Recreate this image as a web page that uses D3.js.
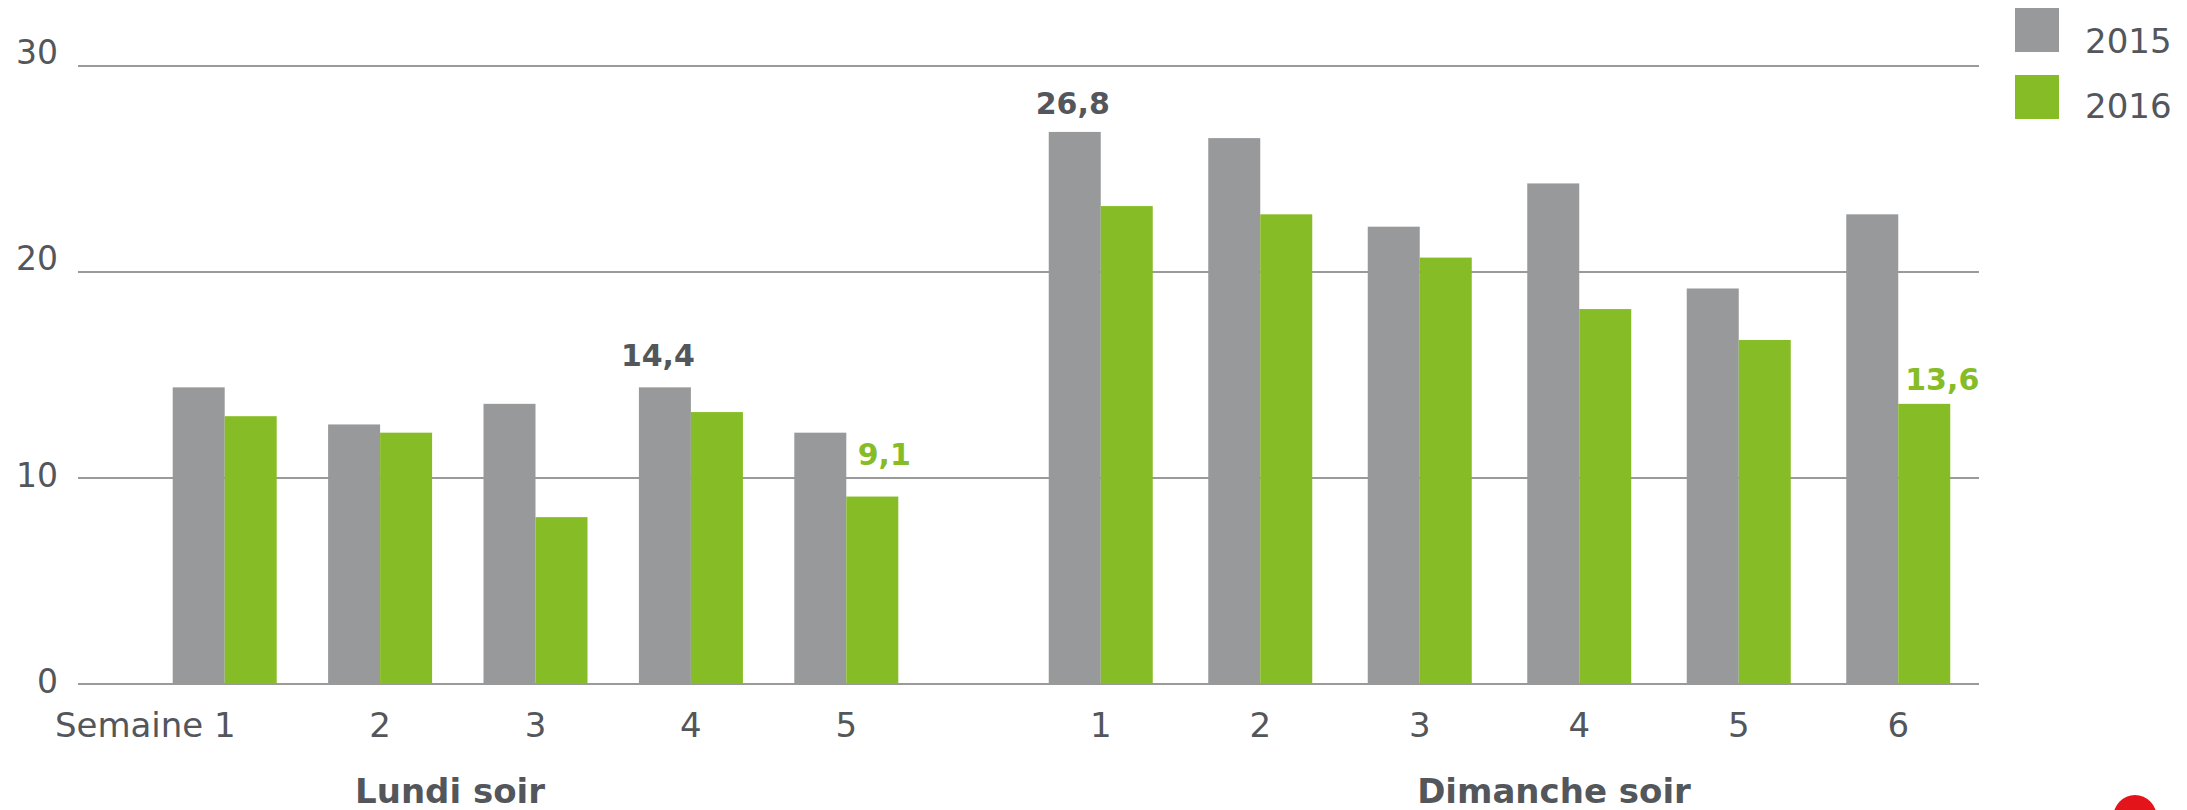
<!DOCTYPE html>
<html>
<head>
<meta charset="utf-8">
<script src="https://cdn.jsdelivr.net/npm/d3@7"></script>
<style>
  html, body { margin: 0; padding: 0; background: #fff; }
  svg { display: block; }
  text { font-family: "DejaVu Sans", Verdana, sans-serif; }
</style>
</head>
<body>
<svg id="chart" width="2187" height="810"></svg>
<script>
// ---- data ----
const seriesNames = ["2015", "2016"];
const lundiWeeks = ["1", "2", "3", "4", "5"];
const lundi2015 = [14.4, 12.6, 13.6, 14.4, 12.2];
const lundi2016 = [13.0, 12.2, 8.1, 13.2, 9.1];
const dimancheWeeks = ["1", "2", "3", "4", "5", "6"];
const dimanche2015 = [26.8, 26.5, 22.2, 24.3, 19.2, 22.8];
const dimanche2016 = [23.2, 22.8, 20.7, 18.2, 16.7, 13.6];
const groupLabels = ["Lundi soir", "Dimanche soir"];
const yTicks = [0, 10, 20, 30];
// highlighted value labels: group, series, week index, text
const valueLabels = [
  { group: 0, series: "2015", index: 3, text: "14,4" },
  { group: 0, series: "2016", index: 4, text: "9,1" },
  { group: 1, series: "2015", index: 0, text: "26,8" },
  { group: 1, series: "2016", index: 5, text: "13,6" }
];

// ---- styles ----
const colors = { "2015": "#98999b", "2016": "#86bc25" };
const textColor = "#53565a";
const labelOffsets = [ {dx: -7, dy: -21}, {dx: 12, dy: -32}, {dx: -2, dy: -18}, {dx: 18, dy: -14} ];

const svg = d3.select("#chart");

const y = d3.scaleLinear().domain([0, 30]).range([684, 66]);

const groups = [
  { weeks: lundiWeeks, values: { "2015": lundi2015, "2016": lundi2016 },
    x: d3.scaleBand().domain(lundiWeeks).range([147, 924]).padding(0) },
  { weeks: dimancheWeeks, values: { "2015": dimanche2015, "2016": dimanche2016 },
    x: d3.scaleBand().domain(dimancheWeeks).range([1021, 1978]).padding(0) }
];
const xSub = d3.scaleBand().domain(seriesNames).range([-52, 52]).padding(0);

// gridlines
svg.append("g").selectAll("line").data(yTicks).join("line")
  .attr("x1", 78).attr("x2", 1979)
  .attr("y1", d => y(d)).attr("y2", d => y(d))
  .attr("stroke", "#9a9a9a").attr("stroke-width", 2);

// y tick labels
svg.append("g").selectAll("text").data(yTicks).join("text")
  .attr("x", 58).attr("y", d => y(d) + (d >= 20 ? -2 : 9))
  .attr("text-anchor", "end")
  .attr("font-size", 33).attr("fill", textColor)
  .text(d => d);

// bars
groups.forEach((g, gi) => {
  const gg = svg.append("g");
  seriesNames.forEach(s => {
    gg.selectAll(null).data(g.weeks).join("rect")
      .attr("x", d => g.x(d) + g.x.bandwidth() / 2 + xSub(s))
      .attr("width", xSub.bandwidth())
      .attr("y", (d, i) => y(g.values[s][i]))
      .attr("height", (d, i) => y(0) - y(g.values[s][i]))
      .attr("fill", colors[s]);
  });
  // x tick labels
  gg.selectAll(null).data(g.weeks).join("text")
    .attr("x", (d, i) => g.x(d) + g.x.bandwidth() / 2 + (gi === 0 && i === 0 ? 11 : 0))
    .attr("y", 737)
    .attr("text-anchor", (d, i) => (gi === 0 && i === 0) ? "end" : "middle")
    .attr("font-size", 34).attr("fill", textColor)
    .text((d, i) => (gi === 0 && i === 0) ? "Semaine " + d : d);
});

// group labels
const groupLabelX = [450, 1554];
svg.append("g").selectAll("text").data(groupLabels).join("text")
  .attr("x", (d, i) => groupLabelX[i]).attr("y", 803)
  .attr("text-anchor", "middle")
  .attr("font-size", 34).attr("font-weight", "bold").attr("fill", textColor)
  .text(d => d);

// value labels
svg.append("g").selectAll("text").data(valueLabels).join("text")
  .attr("x", (d, i) => {
    const g = groups[d.group];
    return g.x(g.weeks[d.index]) + g.x.bandwidth() / 2 + xSub(d.series) + xSub.bandwidth() / 2 + labelOffsets[i].dx;
  })
  .attr("y", (d, i) => y(groups[d.group].values[d.series][d.index]) + labelOffsets[i].dy)
  .attr("text-anchor", "middle")
  .attr("font-size", 30).attr("font-weight", "bold")
  .attr("fill", d => d.series === "2015" ? textColor : colors["2016"])
  .text(d => d.text);

// legend
const legend = svg.append("g");
seriesNames.forEach((s, i) => {
  legend.append("rect").attr("x", 2015).attr("y", 8 + i * 67).attr("width", 44).attr("height", 44).attr("fill", colors[s]);
  legend.append("text").attr("x", 2085).attr("y", 53 + i * 65)
    .attr("font-size", 34).attr("fill", textColor).text(s);
});

// partial logo mark bottom-right
svg.append("ellipse").attr("cx", 2135).attr("cy", 818).attr("rx", 22).attr("ry", 23).attr("fill", "#e3151a");
</script>
</body>
</html>
